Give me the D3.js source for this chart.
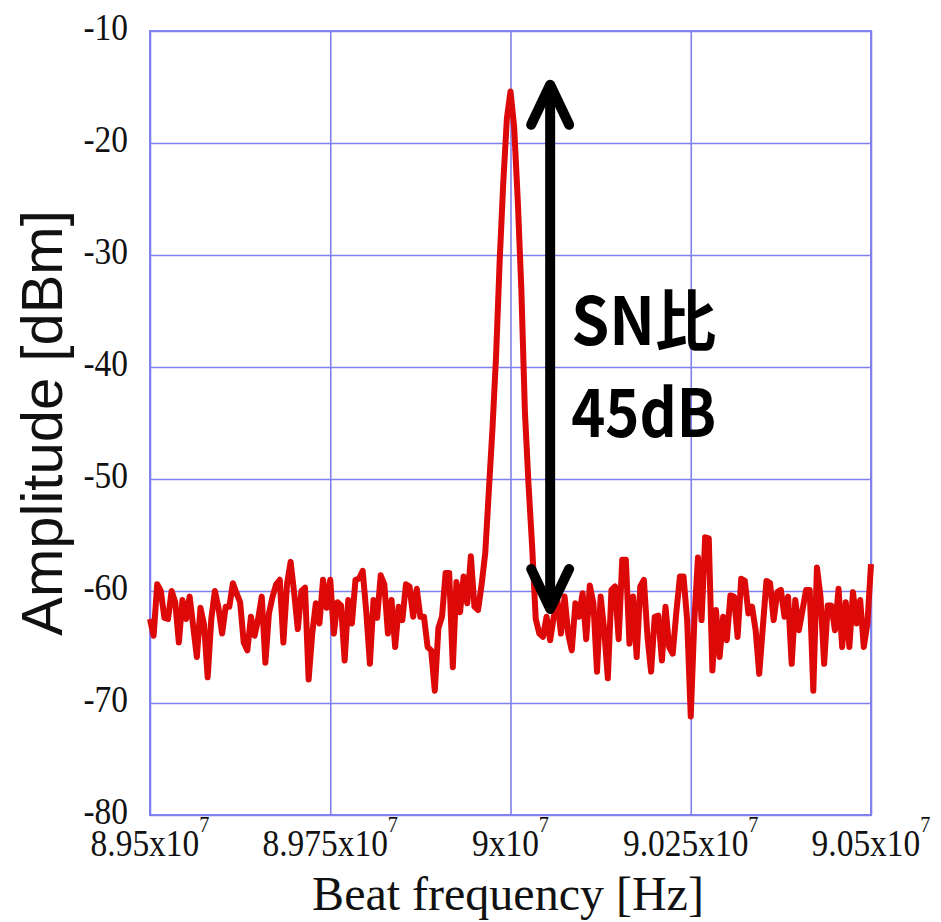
<!DOCTYPE html>
<html>
<head>
<meta charset="utf-8">
<script src="https://cdn.jsdelivr.net/npm/d3@7"></script>
<style>
  html, body { margin: 0; padding: 0; background: #fff; }
  svg { display: block; }
</style>
</head>
<body>
<div id="chart"></div>
<script>
// sweep grid of the analyser: 201 points, 5 kHz apart
const freqStartHz = 8.95e7;
const freqStepHz = 5000;

const amplitudeDbm = [
  -62.5, -64, -59.4, -60, -62.4, -62.5, -60, -61, -64.6, -60.8,
  -62.5, -60.5, -63.2, -65.9, -61.5, -63, -67.7, -62.5, -60, -61.5,
  -63.8, -61.4, -61.4, -59.3, -60.2, -61, -64.6, -65.3, -62.3, -64,
  -62.5, -60.5, -66.4, -62, -60.5, -59.4, -59, -64.6, -59.4, -57.4,
  -60.2, -63.4, -60, -59.7, -67.9, -63.8, -61.1, -62.9, -59, -61.5,
  -59, -63.8, -61, -61.3, -66.2, -60.8, -62.9, -59, -58.9, -58.2,
  -61.9, -66.5, -60.8, -62.4, -58.6, -59.4, -63.8, -60.8, -65, -61.4,
  -62.6, -59.4, -59.6, -62.3, -59.8, -62.3, -62.3, -65, -65.3, -68.9,
  -63.3, -62.3, -58.4, -58.4, -66.8, -59.2, -61.9, -58.7, -61.1, -56.9,
  -61.4, -61.7, -59.4, -56.6,
  -51, -45.5, -39, -30.5, -23.5, -17.8, -15.4, -18.5, -25, -33,
  -44, -50.5, -56,
  -62.5, -63.8, -64.1, -62.3, -64.4, -62.3, -60.8, -63.8, -60.5, -63.8,
  -65.3, -61.1, -62.3, -60.2, -64.3, -59.5, -61.1, -67.2, -60.5, -63.5,
  -67.8, -59.9, -59.6, -64.3, -57.2, -57.2, -64.7, -60.5, -65.9, -59.6,
  -59, -64.1, -67.2, -62.3, -62.2, -66.2, -61.4, -65, -65.6, -61.9,
  -58.7, -58.7, -62.6,
  -71.2, -62.6, -57, -62.6, -55.2, -55.3, -67.1, -61.7, -65.9, -62.3,
  -64.4, -60.4, -60.5, -64.1, -58.9, -59.1, -62, -61.4, -63.5, -67.4,
  -63.2, -59.1, -59.3, -62.6, -60.1, -59.9, -62.3, -60.5, -66.5, -60.8,
  -63.5, -61.7, -59.9, -59.9, -68.9, -57.9, -60.5, -66.5, -61.3, -61.3,
  -63.5, -59.8, -65, -61, -65, -60.1, -62.9, -60.8, -65, -62.9,
  -57.6
];

const xTicks = [8.95e7, 8.975e7, 9e7, 9.025e7, 9.05e7];
const xTickMantissa = ["8.95", "8.975", "9", "9.025", "9.05"];
const yTicks = [-80, -70, -60, -50, -40, -30, -20, -10];

// double arrow marking the signal-to-noise ratio
const arrowFreq = 9.0055e7;
const arrowTopDbm = -14.8;
const arrowBottomDbm = -61.6;
const annotationLines = ["SN比", "45dB"];

const width = 941, height = 922;
const margin = { top: 31, right: 70, bottom: 107, left: 150 };

const data = amplitudeDbm.map((v, i) => ({ f: freqStartHz + i * freqStepHz, v }));

const svg = d3.select("#chart").append("svg")
    .attr("width", width)
    .attr("height", height);

svg.append("rect").attr("width", width).attr("height", height).attr("fill", "#fff");

const x = d3.scaleLinear([8.95e7, 9.05e7], [margin.left, width - margin.right]);
const y = d3.scaleLinear([-80, -10], [height - margin.bottom, margin.top]);

const gridColor = "#8080ee";

// grid lines
svg.append("g")
    .attr("transform", `translate(0,${y(-80)})`)
    .call(d3.axisBottom(x).tickValues(xTicks).tickSize(-(y(-80) - y(-10))).tickFormat(""))
    .call(g => g.select(".domain").remove())
    .call(g => g.selectAll("line").attr("stroke", gridColor).attr("stroke-width", 1.6));

svg.append("g")
    .attr("transform", `translate(${x(8.95e7)},0)`)
    .call(d3.axisLeft(y).tickValues(yTicks).tickSize(-(x(9.05e7) - x(8.95e7))).tickFormat(""))
    .call(g => g.select(".domain").remove())
    .call(g => g.selectAll("line").attr("stroke", gridColor).attr("stroke-width", 1.6));

// frame
svg.append("rect")
    .attr("x", x(8.95e7)).attr("y", y(-10))
    .attr("width", x(9.05e7) - x(8.95e7))
    .attr("height", y(-80) - y(-10))
    .attr("fill", "none")
    .attr("stroke", gridColor)
    .attr("stroke-width", 2);

// x tick labels  (mantissa x10^7)
const xl = svg.append("g")
    .style("font-family", "'Liberation Serif', 'Times New Roman', serif")
    .attr("fill", "#111");

xTicks.forEach((t, i) => {
  const txt = xl.append("g")
      .attr("transform", `translate(${x(t)},${y(-80) + 41})`)
    .append("text")
      .attr("transform", "scale(0.88,1)")
      .attr("text-anchor", "middle")
      .style("font-size", "38px");
  txt.append("tspan").text(xTickMantissa[i] + "x10");
  txt.append("tspan").attr("dy", -24).style("font-size", "23px").text("7");
});

// y tick labels
svg.append("g")
    .style("font-family", "'Liberation Serif', 'Times New Roman', serif")
    .attr("fill", "#111")
  .selectAll("g")
  .data(yTicks)
  .join("g")
    .attr("transform", d => `translate(${x(8.95e7) - 22},${y(d) + 9})`)
  .append("text")
    .attr("transform", "scale(0.88,1)")
    .attr("text-anchor", "end")
    .style("font-size", "38px")
    .text(d => d);

// axis titles
svg.append("text")
    .attr("x", 508).attr("y", 910)
    .attr("text-anchor", "middle")
    .style("font-family", "'Liberation Serif', 'Times New Roman', serif")
    .style("font-size", "48px")
    .attr("fill", "#111")
    .text("Beat frequency [Hz]");

svg.append("text")
    .attr("transform", `translate(62,${(y(-10) + y(-80)) / 2}) rotate(-90)`)
    .attr("text-anchor", "middle")
    .style("font-family", "'Liberation Sans', Arial, sans-serif")
    .style("font-size", "58px")
    .attr("fill", "#111")
    .text("Amplitude [dBm]");

// spectrum trace
const line = d3.line().x(d => x(d.f)).y(d => y(d.v));

svg.append("path")
    .datum(data)
    .attr("fill", "none")
    .attr("stroke", "#dd0808")
    .attr("stroke-width", 6)
    .attr("stroke-linejoin", "round")
    .attr("d", line);

// SN arrow
const ax = x(arrowFreq), ayTop = y(arrowTopDbm), ayBot = y(arrowBottomDbm);
const head = 40, half = 19;
const arrow = svg.append("g")
    .attr("fill", "none")
    .attr("stroke", "#000")
    .attr("stroke-width", 10)
    .attr("stroke-linecap", "round")
    .attr("stroke-linejoin", "round");
arrow.append("line").attr("x1", ax).attr("x2", ax).attr("y1", ayTop + 3).attr("y2", ayBot - 3);
arrow.append("path").attr("d", `M${ax - half},${ayTop + head}L${ax},${ayTop}L${ax + half},${ayTop + head}`);
arrow.append("path").attr("d", `M${ax - half},${ayBot - head}L${ax},${ayBot}L${ax + half},${ayBot - head}`);

svg.append("g")
    .style("font-family", "'Noto Sans CJK JP', 'Noto Sans', sans-serif")
    .style("font-weight", "bold")
    .style("font-size", "66px")
    .attr("fill", "#000")
  .selectAll("text")
  .data(annotationLines)
  .join("text")
    .attr("x", ax + 21)
    .attr("y", (d, i) => 345 + i * 92)
    .attr("textLength", 145)
    .attr("lengthAdjust", "spacingAndGlyphs")
    .text(d => d);
</script>
</body>
</html>
